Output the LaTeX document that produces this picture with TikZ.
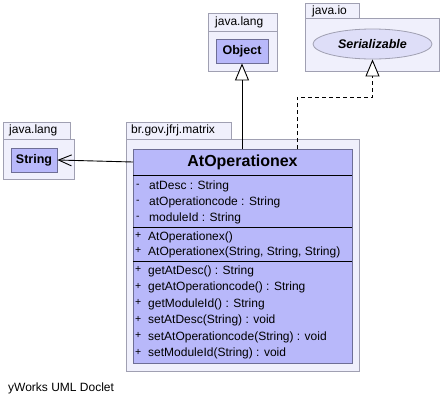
\documentclass[tikz,border=0pt]{standalone}
\usepackage{fontspec}
\setmainfont{Liberation Sans}
\usetikzlibrary{arrows.meta,shapes.geometric}

\definecolor{pkgfill}{RGB}{240,240,252}
\definecolor{pkgline}{RGB}{160,160,178}
\definecolor{clsfill}{RGB}{184,184,250}
\definecolor{clsline}{RGB}{110,110,150}
\definecolor{ifcfill}{RGB}{222,222,248}

\newcommand{\vis}[1]{\makebox[13pt][l]{\raisebox{1.5pt}{\fontsize{10.5}{11}\selectfont#1}}}

\tikzset{
  pkg/.style={draw=pkgline, fill=pkgfill, line width=0.8pt},
  pkglabel/.style={anchor=west, inner sep=0pt, font=\fontsize{12}{14}\selectfont},
  smallcls/.style={draw=clsline, fill=clsfill, line width=0.8pt, inner sep=0pt,
    minimum height=24, font=\fontsize{12.5}{14}\selectfont\bfseries},
  compart/.style={fill=clsfill, inner sep=0pt, outer sep=0pt, minimum width=219},
  member/.style={anchor=west, inner sep=0pt, text height=8.5pt, text depth=2.5pt,
    font=\fontsize{12}{14}\selectfont},
  generalize/.style={line width=0.9pt, -{Triangle[length=17pt,width=14pt,fill=white]}},
  depend/.style={line width=0.9pt, -{Straight Barb[length=13pt,width=11pt]}},
}

\begin{document}
\begin{tikzpicture}[x=1pt,y=-1pt]
    \useasboundingbox (0,0) rectangle (442,408);
%
    % java.lang with Object
    \draw[pkg] (208,13) rectangle (277,31);
    \draw[pkg] (208,31) rectangle (277,71);
    \node[pkglabel] (langtop) at (215,22) {java.lang};
    \node[smallcls, minimum width=52] (object) at (242,51) {Object};
%
    % java.io with Serializable
    \draw[pkg] (305,3) rectangle (359,18);
    \draw[pkg] (305,18) rectangle (439,71);
    \node[pkglabel] (iotop) at (312,11) {java.io};
    \node[ellipse, draw=pkgline, fill=ifcfill, line width=0.8pt, inner sep=0pt,
      minimum width=119, minimum height=30,
      font=\fontsize{12.5}{14}\selectfont\bfseries\itshape] (serial) at (372.5,44) {Serializable};
%
    % java.lang with String
    \draw[pkg] (3,122) rectangle (70,139);
    \draw[pkg] (3,139) rectangle (74,179);
    \node[pkglabel] (langleft) at (9,130) {java.lang};
    \node[smallcls, minimum width=46] (string) at (34,160) {String};
%
    % br.gov.jfrj.matrix with the class
    \draw[pkg] (126,122) rectangle (231,139);
    \draw[pkg] (126,139) rectangle (359,371);
    \node[pkglabel] (matrix) at (131,130) {br.gov.jfrj.matrix};
%
    \node[compart, minimum height=26, font=\fontsize{16}{18}\selectfont\bfseries] (atop) at (242.5,162) {AtOperationex};
    \node[compart, minimum height=52, anchor=north] (atattrs) at (atop.south) {};
    \node[compart, minimum height=34, anchor=north] (atctors) at (atattrs.south) {};
    \node[compart, minimum height=102, anchor=north] (atmeths) at (atctors.south) {};
    \draw[clsline, line width=0.8pt] (atop.north west) rectangle (atmeths.south east);
    \draw[line width=0.8pt] (atattrs.north west) -- (atattrs.north east)
      (atctors.north west) -- (atctors.north east)
      (atmeths.north west) -- (atmeths.north east);
%
    \node[member] (attr1) at (136,186) {\vis{-}atDesc : String};
    \node[member] (attr2) at (136,202) {\vis{-}atOperationcode : String};
    \node[member] (attr3) at (136,218) {\vis{-}moduleId : String};
    \node[member] (ctor1) at (135,237) {\vis{+}AtOperationex()};
    \node[member] (ctor2) at (135,252) {\vis{+}AtOperationex(String, String, String)};
    \node[member] (meth1) at (135,271) {\vis{+}getAtDesc() : String};
    \node[member] (meth2) at (135,287.5) {\vis{+}getAtOperationcode() : String};
    \node[member] (meth3) at (135,304) {\vis{+}getModuleId() : String};
    \node[member] (meth4) at (135,320.5) {\vis{+}setAtDesc(String) : void};
    \node[member] (meth5) at (135,337) {\vis{+}setAtOperationcode(String) : void};
    \node[member] (meth6) at (135,353.5) {\vis{+}setModuleId(String) : void};
%
    % relations
    \draw[generalize] (object.south |- atop.north) -- (object.south);
    \coordinate (bend) at (297,97);
    \draw[generalize, dash pattern=on 4pt off 3pt] (bend |- atop.north) -- (bend) -| (serial.south);
    \draw[depend] (atop.west) -- (string.east);
%
    \node[pkglabel] (doclet) at (8,388) {yWorks UML Doclet};
  \end{tikzpicture}
\end{document}
